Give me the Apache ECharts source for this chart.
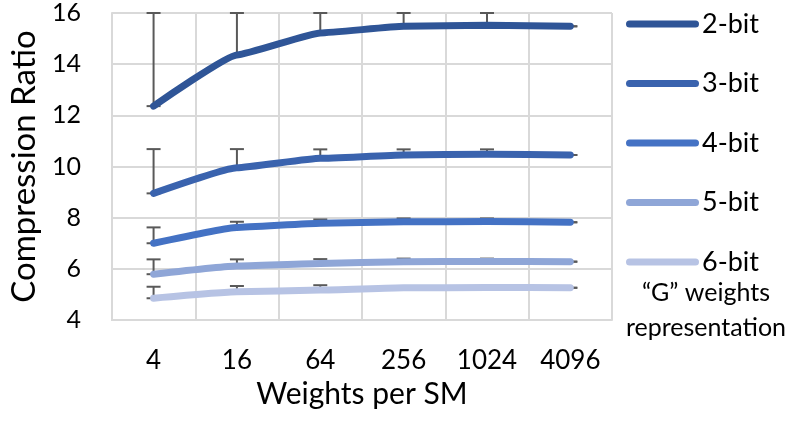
<!DOCTYPE html>
<html>
<head>
<meta charset="utf-8">
<script src="https://cdn.jsdelivr.net/npm/echarts@6/dist/echarts.min.js"></script>
<style>
    * { margin: 0; padding: 0; }
    body { background: #fff; }
</style>
</head>
<body>
<!-- chart container -->
<div id="ratioChart" style="width: 790px;height: 432px;"></div>
<script>
    var weights = ['4', '16', '64', '256', '1024', '4096'];
    var bitNames = ['2-bit', '3-bit', '4-bit', '5-bit', '6-bit'];
    var bitColors = ['#2F5597', '#3A63AE', '#4472C4', '#8FA6D7', '#B7C3E4'];

    // mean compression ratio per bit width
    var ratio2 = [12.36, 14.36, 15.22, 15.48, 15.52, 15.48];
    var ratio3 = [8.95, 9.95, 10.32, 10.45, 10.48, 10.45];
    var ratio4 = [7.0, 7.62, 7.78, 7.84, 7.85, 7.82];
    var ratio5 = [5.79, 6.11, 6.21, 6.28, 6.29, 6.28];
    var ratio6 = [4.85, 5.10, 5.17, 5.26, 5.27, 5.26];

    // top of error bar
    var high2 = [16, 16, 16, 16, 16, 15.48];
    var high3 = [10.68, 10.68, 10.67, 10.67, 10.67, 10.45];
    var high4 = [7.62, 7.84, 7.93, 7.97, 7.97, 7.82];
    var high5 = [6.37, 6.37, 6.38, 6.4, 6.4, 6.28];
    var high6 = [5.30, 5.33, 5.36, 5.33, 5.33, 5.26];

    var yTicks = { min: 4, max: 16, interval: 2 };

    var ratios = [ratio2, ratio3, ratio4, ratio5, ratio6];
    var highs = [high2, high3, high4, high5, high6];

    var font = 'Lato';
    var gridColor = '#D9D9D9';

    function errorBar(params, api) {
        var x = api.value(0);
        var lo = api.coord([x, api.value(1)]);
        var hi = api.coord([x, api.value(2)]);
        var cap = 7;
        var style = { stroke: '#595959', lineWidth: 2 };
        return {
            type: 'group',
            children: [
                { type: 'line', shape: { x1: lo[0], y1: lo[1], x2: hi[0], y2: hi[1] }, style: style },
                { type: 'line', shape: { x1: hi[0] - cap, y1: hi[1], x2: hi[0] + cap, y2: hi[1] }, style: style },
                { type: 'line', shape: { x1: lo[0] - cap, y1: lo[1], x2: lo[0] + cap, y2: lo[1] }, style: style }
            ]
        };
    }

    var series = [];
    bitNames.forEach(function (name, i) {
        series.push({
            name: name + ' err',
            type: 'custom',
            renderItem: errorBar,
            z: 1,
            silent: true,
            data: ratios[i].map(function (v, j) { return [j, v, highs[i][j]]; })
        });
    });
    bitNames.forEach(function (name, i) {
        series.push({
            name: name,
            type: 'line',
            z: 3,
            data: ratios[i],
            smooth: 0.12,
            smoothMonotone: 'x',
            symbol: 'none',
            lineStyle: { color: bitColors[i], width: 7, cap: 'round', join: 'round' },
            itemStyle: { color: bitColors[i] }
        });
    });

    var chart = echarts.init(document.getElementById('ratioChart'));
    chart.setOption({
        animation: false,
        color: bitColors,
        grid: { left: 103, right: 178, top: 13, bottom: 112 },
        legend: {
            data: bitNames,
            orient: 'vertical',
            left: 621,
            top: 4,
            itemWidth: 73,
            itemHeight: 7,
            itemGap: 29.5,
            icon: 'path://M3.5,0 H69.5 A3.5,3.5 0 0 1 69.5,7 H3.5 A3.5,3.5 0 0 1 3.5,0 Z',
            textStyle: { fontFamily: font, fontSize: 27, color: '#000', lineHeight: 30, height: 30, padding: [0, 0, 0, -2] }
        },
        graphic: [
            { type: 'text', x: 706, y: 293, style: { text: '\u201CG\u201D weights', font: '25px Lato', fill: '#000', align: 'center', verticalAlign: 'middle' } },
            { type: 'text', x: 706, y: 328, style: { text: 'representation', font: '25px Lato', fill: '#000', align: 'center', verticalAlign: 'middle' } }
        ],
        xAxis: {
            type: 'category',
            data: weights,
            boundaryGap: true,
            name: 'Weights per SM',
            nameLocation: 'middle',
            nameGap: 55,
            nameTextStyle: { fontFamily: font, fontSize: 30, color: '#000' },
            axisLine: { lineStyle: { color: gridColor, width: 2 } },
            axisTick: { show: false },
            axisLabel: { fontFamily: font, fontSize: 26, color: '#000', margin: 28 },
            splitLine: { show: true, lineStyle: { color: gridColor, width: 2 } }
        },
        yAxis: {
            type: 'value',
            min: yTicks.min,
            max: yTicks.max,
            interval: yTicks.interval,
            name: 'Compression Ratio',
            nameLocation: 'middle',
            nameGap: 64,
            nameTextStyle: { fontFamily: font, fontSize: 33, color: '#000' },
            axisLine: { show: true, lineStyle: { color: gridColor, width: 2 } },
            axisTick: { show: false },
            axisLabel: { fontFamily: font, fontSize: 25, color: '#000', margin: 31 },
            splitLine: { lineStyle: { color: gridColor, width: 2 } }
        },
        series: series
    });
</script>
</body>
</html>
